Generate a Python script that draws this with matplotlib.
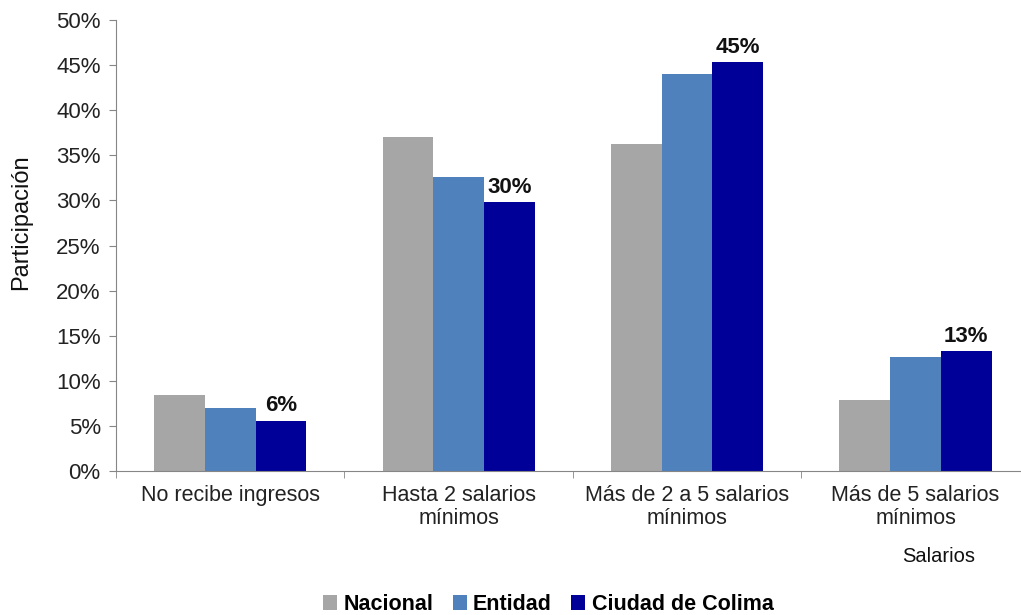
import numpy as np
import matplotlib
matplotlib.use('Agg')
import matplotlib.pyplot as plt

plt.rcParams['font.family'] = ['Liberation Sans', 'DejaVu Sans']

categories = ['No recibe ingresos', 'Hasta 2 salarios\nmínimos',
              'Más de 2 a 5 salarios\nmínimos', 'Más de 5 salarios\nmínimos']
nacional = [8.4, 37.0, 36.2, 7.9]
entidad = [7.0, 32.6, 44.0, 12.6]
colima = [5.6, 29.8, 45.3, 13.3]
colima_labels = ['6%', '30%', '45%', '13%']
series = ['Nacional', 'Entidad', 'Ciudad de Colima']
colors = ['#A6A6A6', '#4F81BD', '#000099']

fig = plt.figure(figsize=(10.21, 6.15), dpi=100)
ax = fig.add_axes([0.1136, 0.234, 0.895, 0.7335])

x = np.arange(len(categories))
w = 0.222
for i, (vals, name, c) in enumerate(zip([nacional, entidad, colima], series, colors)):
    ax.bar(x + (i - 1) * w, vals, w, color=c, label=name)

for xi, v, lab in zip(x, colima, colima_labels):
    ax.text(xi + w, v + 0.5, lab, ha='center', va='bottom',
            fontsize=16, fontweight='bold', color='#111111')

ax.set_xlim(-0.5, len(categories) - 0.5)
ax.set_ylim(0, 50)
ax.set_yticks(np.arange(0, 51, 5))
ax.set_yticklabels([f'{v}%' for v in range(0, 51, 5)], fontsize=16, color='#222222')
ax.set_xticks(x)
ax.set_xticklabels(categories, fontsize=15.5, color='#222222', linespacing=1.15)
ax.set_xticks(np.arange(-0.5, len(categories), 1), minor=True)
ax.tick_params(axis='x', which='major', length=0, pad=10)
ax.tick_params(axis='x', which='minor', length=5, color='#868686')
ax.tick_params(axis='y', length=5, color='#868686', pad=6)

for s in ['top', 'right']:
    ax.spines[s].set_visible(False)
for s in ['left', 'bottom']:
    ax.spines[s].set_color('#868686')

ax.set_ylabel('Participación', fontsize=17, color='#111111')
ax.yaxis.set_label_coords(-0.092, 0.552)
fig.text(0.919, 0.095, 'Salarios', fontsize=14.5, ha='center', va='center', color='#111111')

leg = fig.legend(loc='center', bbox_to_anchor=(0.537, 0.017), ncol=3, frameon=False,
                 prop={'size': 15.5, 'weight': 'bold'}, handlelength=0.65, handleheight=0.65,
                 handletextpad=0.3, columnspacing=0.9)

fig.savefig('out.png', dpi=100)
